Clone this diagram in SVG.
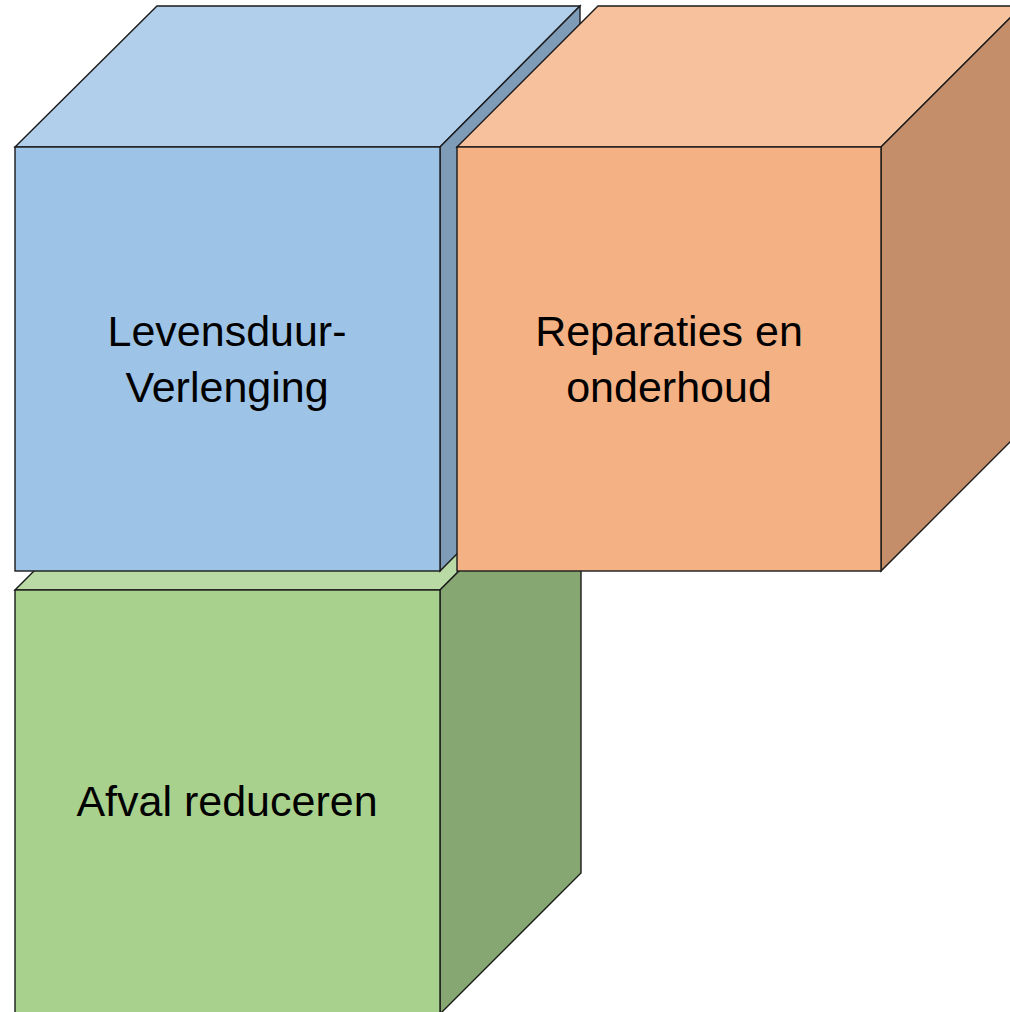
<svg xmlns="http://www.w3.org/2000/svg" width="1010" height="1012" viewBox="0 0 1010 1012">
<style>
.e{stroke:#1a1a1a;stroke-width:1.4;stroke-linejoin:miter}
.t{font-family:"Liberation Sans",Arial,sans-serif;font-size:43px;fill:#000;text-anchor:middle}
</style>
<rect width="1010" height="1012" fill="#fff"/>
<g id="cube-green">
<polygon class="e" fill="#BADAA5" points="15,590 156,449 581,449 440,590"/>
<polygon class="e" fill="#87A772" points="440,590 581,449 581,873 440,1014"/>
<rect class="e" fill="#A9D18E" x="15" y="590" width="425" height="424"/>
<text class="t" x="227" y="816">Afval reduceren</text>
</g>
<g id="cube-blue">
<polygon class="e" fill="#B1CFEB" points="15,147 157,6 580,6 440,147"/>
<polygon class="e" fill="#7E9CB8" points="440,147 580,6 580,430 440,571"/>
<rect class="e" fill="#9DC3E6" x="15" y="147" width="425" height="424"/>
<text class="t" x="227" y="346">Levensduur-</text>
<text class="t" x="227" y="402">Verlenging</text>
</g>
<g id="cube-orange">
<polygon class="e" fill="#F6C19C" points="457,147 598,6 1022,6 881,147"/>
<polygon class="e" fill="#C38E69" points="881,147 1022,6 1022,430 881,571"/>
<rect class="e" fill="#F4B183" x="457" y="147" width="424" height="424"/>
<text class="t" x="669" y="346">Reparaties en</text>
<text class="t" x="669" y="402">onderhoud</text>
</g>
<g id="connectors"/>
</svg>
